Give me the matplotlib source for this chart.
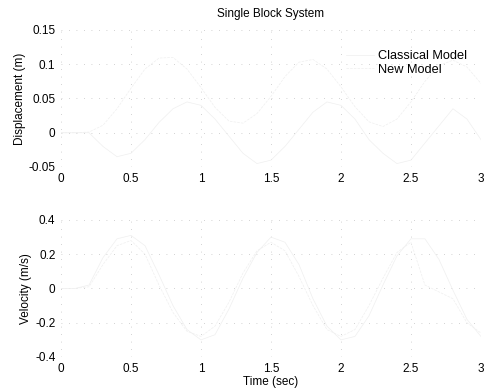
import matplotlib
matplotlib.use("Agg")
import matplotlib.pyplot as plt

plt.rcParams['font.family'] = ['Liberation Sans', 'DejaVu Sans']
plt.rcParams['font.size'] = 8.5

t = [0.0, 0.1, 0.2, 0.3, 0.4, 0.5, 0.6, 0.7, 0.8, 0.9, 1.0,
     1.1, 1.2, 1.3, 1.4, 1.5, 1.6, 1.7, 1.8, 1.9, 2.0,
     2.1, 2.2, 2.3, 2.4, 2.5, 2.6, 2.7, 2.8, 2.9, 3.0]

disp_classical = [0.0, 0.0, 0.0, -0.02, -0.035, -0.03, -0.01, 0.015, 0.035, 0.045, 0.04,
                  0.02, -0.005, -0.03, -0.045, -0.04, -0.02, 0.005, 0.03, 0.045, 0.04,
                  0.02, -0.01, -0.03, -0.045, -0.04, -0.015, 0.01, 0.035, 0.02, -0.01]
disp_new = [0.0, 0.0, 0.001, 0.011, 0.035, 0.065, 0.093, 0.109, 0.110, 0.093, 0.066,
            0.037, 0.017, 0.014, 0.028, 0.053, 0.082, 0.103, 0.107, 0.093, 0.067,
            0.038, 0.016, 0.009, 0.020, 0.045, 0.075, 0.098, 0.106, 0.096, 0.072]

vel_classical = [0.0, 0.0, 0.02, 0.18, 0.29, 0.31, 0.25, 0.08, -0.10, -0.24, -0.30,
                 -0.27, -0.12, 0.06, 0.21, 0.30, 0.27, 0.14, -0.06, -0.22, -0.30,
                 -0.28, -0.16, 0.02, 0.19, 0.29, 0.29, 0.17, -0.01, -0.18, -0.28]
vel_new = [0.0, 0.0, 0.01, 0.14, 0.25, 0.28, 0.20, 0.02, -0.14, -0.25, -0.28,
           -0.22, -0.08, 0.09, 0.22, 0.27, 0.22, 0.07, -0.10, -0.24, -0.28,
           -0.24, -0.10, 0.06, 0.21, 0.27, 0.02, -0.02, -0.06, -0.20, -0.26]

x_ticks = [0, 0.5, 1, 1.5, 2, 2.5, 3]
x_tick_labels = ['0', '0.5', '1', '1.5', '2', '2.5', '3']
disp_ticks = [-0.05, 0, 0.05, 0.1, 0.15]
disp_tick_labels = ['-0.05', '0', '0.05', '0.1', '0.15']
vel_ticks = [-0.4, -0.2, 0, 0.2, 0.4]
vel_tick_labels = ['-0.4', '-0.2', '0', '0.2', '0.4']

fig = plt.figure(figsize=(4.9, 3.91), dpi=100)
ax1 = fig.add_axes([0.1245, 0.5729, 0.857, 0.3504])
ax2 = fig.add_axes([0.1245, 0.087, 0.857, 0.3504])

faint = '#efefef'

def style(ax):
    for s in ax.spines.values():
        s.set_visible(False)
    ax.tick_params(length=0, pad=4)
    ax.grid(True, color='#c4c4c4', linestyle=(0, (1, 8)), linewidth=0.6)
    ax.set_xlim(0, 3)
    ax.set_xticks(x_ticks)
    ax.set_xticklabels(x_tick_labels)

ax1.plot(t, disp_classical, color=faint, linewidth=0.5, label='Classical Model')
ax1.plot(t, disp_new, color=faint, linewidth=0.5, linestyle='--', label='New Model')
style(ax1)
ax1.set_ylim(-0.05, 0.15)
ax1.set_yticks(disp_ticks)
ax1.set_yticklabels(disp_tick_labels)
ax1.set_ylabel('Displacement (m)', labelpad=2)
ax1.set_title('Single Block System', fontsize=8.5, pad=9)
ax1.legend(loc='upper right', bbox_to_anchor=(0.985, 0.91), frameon=False,
           fontsize=9.2, handlelength=2.2, handletextpad=0.3, labelspacing=0.15,
           borderaxespad=0.2)

ax2.plot(t, vel_classical, color=faint, linewidth=0.5)
ax2.plot(t, vel_new, color=faint, linewidth=0.5, linestyle='--')
style(ax2)
ax2.set_ylim(-0.4, 0.4)
ax2.set_yticks(vel_ticks)
ax2.set_yticklabels(vel_tick_labels)
ax2.set_ylabel('Velocity (m/s)', labelpad=2)
ax2.set_xlabel('Time (sec)', labelpad=1)

fig.savefig('out.png', dpi=100)
